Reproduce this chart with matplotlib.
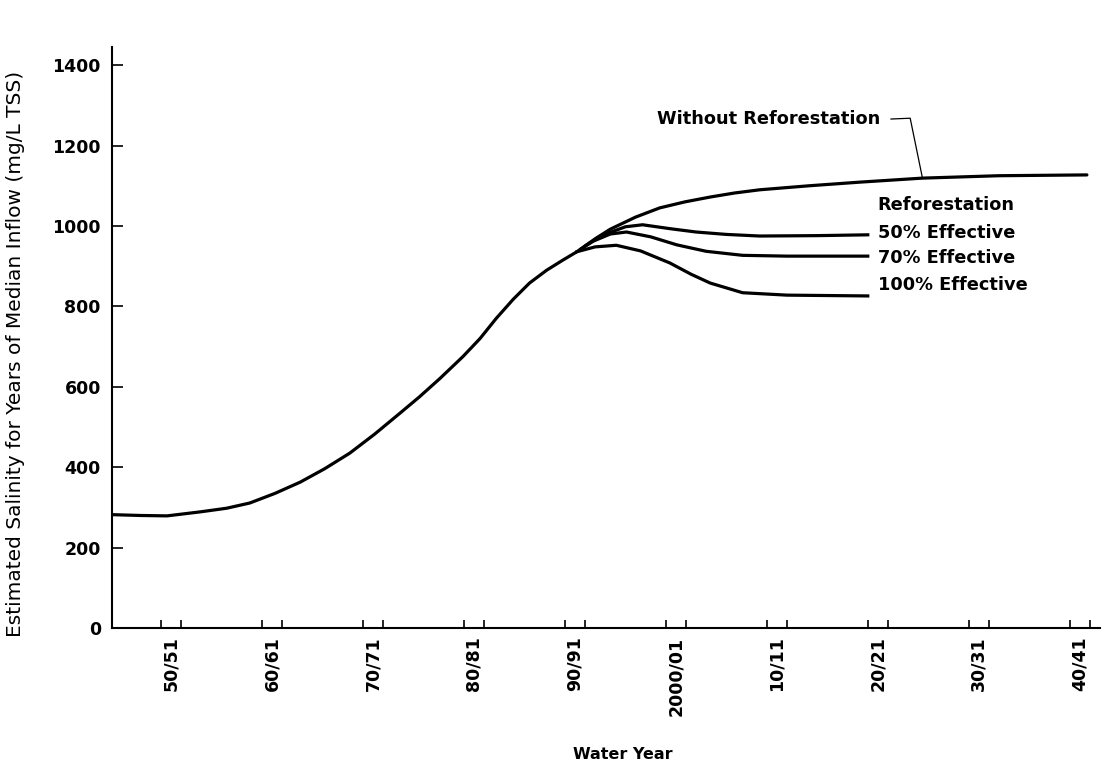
import matplotlib.pyplot as plt
import numpy as np

# values
years_base = [1945.2, 1948, 1950.6, 1953.9, 1956.5, 1958.8, 1961.3, 1963.8, 1966.2, 1968.7,
              1971.2, 1973.7, 1975.6, 1977.6, 1979.9, 1981.6, 1983.2, 1984.9, 1986.5, 1988.2,
              1989.8, 1991.2, 1993.0, 1994.5, 1997.0, 1999.4, 2001.9, 2004.4, 2006.8, 2009.3,
              2014.2, 2019.2, 2025.4, 2033.0, 2041.7]
salt_base = [282, 280, 279, 289, 298, 311, 335, 363, 396, 435,
             483, 535, 575, 620, 675, 720, 770, 818, 858, 890,
             915, 936, 968, 992, 1022, 1045, 1060, 1072, 1082, 1090,
             1100, 1109, 1119, 1125, 1127]

years_50 = [1992.0, 1993.5, 1996.0, 1997.7, 2000.5, 2003.0, 2006.0, 2009.3, 2015.0, 2020.0]
salt_50 = [950, 975, 998, 1003, 993, 985, 979, 975, 976, 978]

years_70 = [1991.6, 1992.8, 1994.5, 1996.1, 1998.5, 2001.1, 2004.0, 2007.6, 2012.0, 2020.0]
salt_70 = [943, 962, 980, 985, 973, 953, 937, 927, 925, 925]

years_100 = [1991.2, 1993.0, 1995.1, 1997.5, 2000.4, 2002.5, 2004.4, 2007.6, 2012.0, 2020.0]
salt_100 = [936, 948, 952, 938, 908, 880, 858, 834, 828, 826]

decades = np.arange(1950, 2041, 10)
tick_labels = ['50/51', '60/61', '70/71', '80/81', '90/91', '2000/01',
               '10/11', '20/21', '30/31', '40/41']

fig = plt.figure(figsize=(11.04, 7.65), dpi=100)
ax = fig.add_axes([0.1014, 0.179, 0.895, 0.7595])

lw = 2.3
ax.plot(years_base, salt_base, color='black', lw=lw, solid_capstyle='round')
ax.plot(years_50, salt_50, color='black', lw=lw)
ax.plot(years_70, salt_70, color='black', lw=lw)
ax.plot(years_100, salt_100, color='black', lw=lw)

ax.set_xlim(1945.15, 2043.0)
ax.set_ylim(0, 1445)

for s in ['top', 'right']:
    ax.spines[s].set_visible(False)
ax.spines['left'].set_linewidth(1.5)
ax.spines['bottom'].set_linewidth(1.5)

ax.set_yticks(np.arange(0, 1401, 200))
ax.tick_params(axis='y', direction='in', length=8, width=1.2, pad=8, labelsize=12.5)
for t in ax.get_yticklabels():
    t.set_fontweight('bold')

# labels sit between the two ticks of each water year
ax.set_xticks(decades + 1)
ax.set_xticklabels(tick_labels, rotation=90, fontsize=12.5, fontweight='bold', va='top')
ax.tick_params(axis='x', which='major', length=0, pad=6)
ax.set_xticks(np.concatenate([decades, decades + 2]), minor=True)
ax.tick_params(axis='x', which='minor', direction='in', length=6, width=1.2)

ax.set_ylabel('Estimated Salinity for Years of Median Inflow (mg/L TSS)', fontsize=14.5)
ax.yaxis.set_label_coords(-0.088, 0.472)
ax.set_xlabel('Water Year', fontsize=11.5, fontweight='bold')
ax.xaxis.set_label_coords(0.517, -0.205)

tf = dict(fontsize=12.8, fontweight='bold', va='center', ha='left')
ax.text(1999.1, 1266, 'Without Reforestation', **tf)
leader_x = [2022.3, 2024.2, 2025.4]
leader_y = [1266, 1268, 1121]
ax.plot(leader_x, leader_y, color='black', lw=0.9)
ax.text(2021.0, 1052, 'Reforestation', **tf)
ax.text(2021.0, 983, '50% Effective', **tf)
ax.text(2021.0, 920, '70% Effective', **tf)
ax.text(2021.0, 853, '100% Effective', **tf)

fig.savefig('out.png', dpi=100)
